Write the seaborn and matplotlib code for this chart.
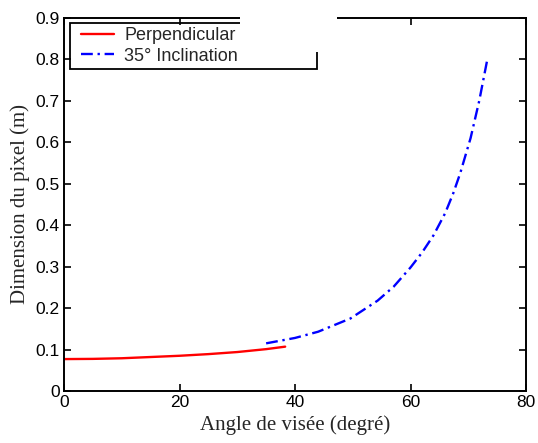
import matplotlib
matplotlib.use("Agg")
import matplotlib.pyplot as plt
import seaborn as sns
import pandas as pd
from matplotlib.patches import Rectangle

# Data
perp_angle = [0, 5, 10, 15, 20, 25, 30, 35, 38.3]
perp_size = [0.077, 0.0775, 0.079, 0.082, 0.085, 0.089, 0.094, 0.101, 0.107]
incl_angle = [35, 40, 44, 49.6, 54.3, 57.1, 60, 62, 64, 66, 67.4, 68.6, 70.4, 71.9, 73.3]
incl_size = [0.115, 0.128, 0.143, 0.175, 0.218, 0.252, 0.298, 0.334, 0.376, 0.429, 0.477,
             0.525, 0.610, 0.700, 0.800]
series_names = ["Perpendicular", "35° Inclination"]

df = pd.concat([
    pd.DataFrame({"angle": perp_angle, "size": perp_size, "series": series_names[0]}),
    pd.DataFrame({"angle": incl_angle, "size": incl_size, "series": series_names[1]}),
])

sns.set_style("ticks")
plt.rcParams["font.family"] = ["Liberation Sans", "DejaVu Sans"]

W, H = 538, 443
fig = plt.figure(figsize=(W / 100, H / 100), dpi=100)
ax = fig.add_axes([64 / W, 52 / H, 462 / W, 373 / H])

sns.lineplot(data=df, x="angle", y="size", hue="series", style="series",
             palette={series_names[0]: "#ff0000", series_names[1]: "#0000ff"},
             dashes={series_names[0]: "", series_names[1]: (5, 2, 1, 2)},
             linewidth=1.7, ax=ax, sort=False, estimator=None)

ax.set_xlim(0, 80)
ax.set_ylim(0, 0.9)
ax.set_xticks([0, 20, 40, 60, 80])
ax.set_yticks([0, 0.1, 0.2, 0.3, 0.4, 0.5, 0.6, 0.7, 0.8, 0.9])
ax.set_yticklabels(["0", "0.1", "0.2", "0.3", "0.4", "0.5", "0.6", "0.7", "0.8", "0.9"])
ax.tick_params(direction="in", top=True, right=True, length=5, width=1.2,
               labelsize=12.5, colors="black", pad=3)
for s in ax.spines.values():
    s.set_linewidth(1.4)
    s.set_color("black")

serif = ["Liberation Serif", "DejaVu Serif"]
ax.set_xlabel("Angle de visée (degré)", family=serif, fontsize=15, labelpad=4)
ax.set_ylabel("Dimension du pixel (m)", family=serif, fontsize=15, labelpad=4)

leg = ax.legend(loc="center left", bbox_to_anchor=(80.7 / W, 1 - 45.8 / H),
                bbox_transform=fig.transFigure, fontsize=13, frameon=False,
                borderaxespad=0, borderpad=0, handlelength=1.85,
                handletextpad=0.55, labelspacing=0.2)
leg.set_title(None)

# legend frame as in the reference (wider than its text)
fig.patches.append(Rectangle((70 / W, 1 - 69.3 / H), 246.7 / W, 46.6 / H,
                             transform=fig.transFigure, facecolor="none",
                             edgecolor="black", linewidth=1.3, zorder=5))
# white patch covering part of the top border and legend, as in the reference
fig.patches.append(Rectangle((240 / W, 1 - 52 / H), 97 / W, 39 / H,
                             transform=fig.transFigure, facecolor="white",
                             edgecolor="none", zorder=10))

fig.savefig("out.png", dpi=100)
